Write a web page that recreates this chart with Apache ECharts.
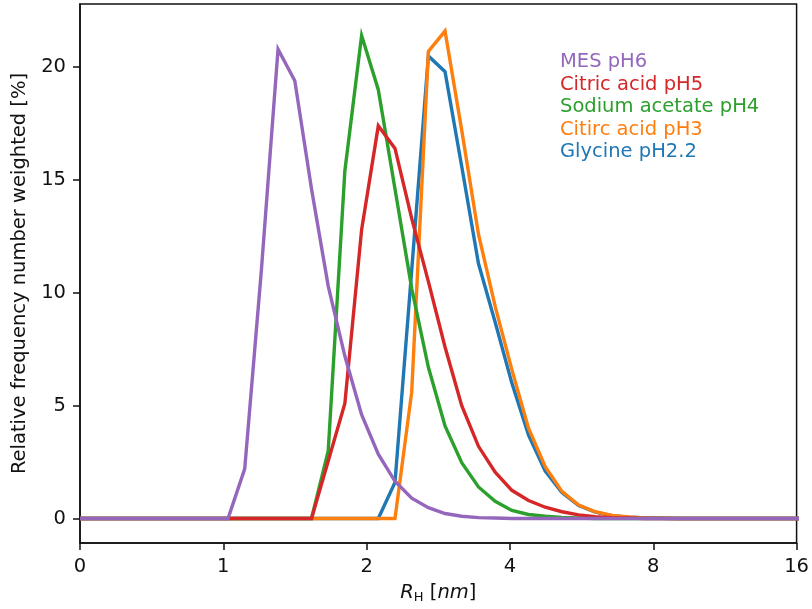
<!DOCTYPE html>
<html><head><meta charset="utf-8">
<script src="https://cdn.jsdelivr.net/npm/echarts@6/dist/echarts.min.js"></script>
<style>html,body{margin:0;padding:0;background:#fff}#c{width:812px;height:609px}</style>
</head><body><div id="c"></div>
<script>
// hydrodynamic radius R_H in nm (log-spaced bins)
const rh = [0, 1.023, 1.109, 1.202, 1.303, 1.413, 1.532, 1.661, 1.800, 1.952, 2.116, 2.294, 2.487, 2.696, 2.922, 3.168, 3.435, 3.724, 4.037, 4.376, 4.744, 5.143, 5.576, 6.045, 6.553, 7.104, 7.702, 8.349, 9.051, 9.813, 10.638, 11.533, 12.502, 13.554, 14.694, 15.930, 17.27];

const mesPH6 = [0, 0, 2.2, 11.0, 20.8, 19.4, 14.6, 10.3, 7.2, 4.6, 2.85, 1.65, 0.9, 0.48, 0.22, 0.1, 0.04, 0.02, 0, 0, 0, 0, 0, 0, 0, 0, 0, 0, 0, 0, 0, 0, 0, 0, 0, 0, 0];
const citricPH5 = [0, 0, 0, 0, 0, 0, 0, 2.55, 5.1, 12.8, 17.4, 16.4, 13.3, 10.5, 7.6, 5.0, 3.2, 2.05, 1.25, 0.8, 0.5, 0.3, 0.16, 0.08, 0.04, 0.02, 0, 0, 0, 0, 0, 0, 0, 0, 0, 0, 0];
const sodiumAcetatePH4 = [0, 0, 0, 0, 0, 0, 0, 3.0, 15.4, 21.4, 19.0, 14.6, 10.2, 6.7, 4.1, 2.47, 1.4, 0.76, 0.36, 0.18, 0.1, 0.05, 0.02, 0, 0, 0, 0, 0, 0, 0, 0, 0, 0, 0, 0, 0, 0];
const citircPH3 = [0, 0, 0, 0, 0, 0, 0, 0, 0, 0, 0, 0, 5.6, 20.7, 21.6, 17.2, 12.6, 9.4, 6.6, 4.0, 2.3, 1.2, 0.6, 0.3, 0.14, 0.07, 0.03, 0.01, 0, 0, 0, 0, 0, 0, 0, 0, 0];
const glycinePH22 = [0, 0, 0, 0, 0, 0, 0, 0, 0, 0, 0, 1.6, 11.0, 20.5, 19.8, 15.6, 11.3, 8.7, 6.0, 3.7, 2.1, 1.15, 0.58, 0.28, 0.13, 0.06, 0.03, 0.01, 0, 0, 0, 0, 0, 0, 0, 0, 0];

const seriesNames = ['MES pH6', 'Citric acid pH5', 'Sodium acetate pH4', 'Citirc acid pH3', 'Glycine pH2.2'];
const seriesColors = ['#9467bd', '#d62728', '#2ca02c', '#ff7f0e', '#1f77b4'];
const seriesValues = [mesPH6, citricPH5, sodiumAcetatePH4, citircPH3, glycinePH22];

const xTickValues = [0, 1, 2, 4, 8, 16];
const yTickValues = [0, 5, 10, 15, 20];

// symmetric-log (base 2, linear below 1) axis transform
function fwd(x) { return x <= 1 ? x : 1 + Math.log2(x); }
function inv(t) { return t <= 1 ? t : Math.pow(2, t - 1); }

const FONT = 'DejaVu Sans';
const FS = 19.5;
const ink = '#111';

// plot in matplotlib order (Glycine first, MES last -> on top)
const order = [4, 3, 2, 1, 0];
const series = order.map(i => ({
  name: seriesNames[i],
  type: 'line',
  showSymbol: false,
  symbol: 'none',
  clip: true,
  color: seriesColors[i],
  lineStyle: { width: 3.4, color: seriesColors[i], join: 'miter' },
  data: rh.map((x, j) => [fwd(x), seriesValues[i][j]])
}));

const chart = echarts.init(document.getElementById('c'), null, { renderer: 'canvas' });
chart.setOption({
  animation: false,
  backgroundColor: '#fff',
  textStyle: { fontFamily: FONT },
  grid: { left: 80, right: 14, top: 4, bottom: 66, show: true, borderColor: ink, borderWidth: 1.5, backgroundColor: 'transparent' },
  legend: {
    orient: 'vertical', left: 555, top: 51, padding: 0, itemGap: 0,
    itemWidth: 0, itemHeight: 0, icon: 'rect', selectedMode: false,
    textStyle: { fontFamily: FONT, fontSize: FS, lineHeight: 22.5 },
    data: seriesNames.map((n, i) => ({ name: n, textStyle: { color: seriesColors[i] } }))
  },
  xAxis: {
    type: 'value', min: 0, max: fwd(16),
    axisLine: { show: true, onZero: false, lineStyle: { color: ink, width: 1.5 } },
    axisTick: { show: true, length: 7, lineStyle: { color: ink, width: 1.5 }, customValues: xTickValues.map(fwd) },
    axisLabel: { customValues: xTickValues.map(fwd), fontSize: FS, color: ink, margin: 14, fontFamily: FONT,
      formatter: v => String(Math.round(inv(v))) },
    splitLine: { show: false },
    name: '{i|R}{s|H} [{i|nm}]', nameLocation: 'middle', nameGap: 38,
    nameTextStyle: { fontSize: FS, color: ink, fontFamily: FONT,
      rich: { i: { fontStyle: 'italic', fontSize: FS, color: ink, fontFamily: FONT },
              s: { fontSize: 13, color: ink, padding: [10, 0, 0, 0], fontFamily: FONT } } }
  },
  yAxis: {
    type: 'value', min: -1.085, max: 22.8,
    axisLine: { show: true, onZero: false, lineStyle: { color: ink, width: 1.5 } },
    axisTick: { show: true, length: 7, lineStyle: { color: ink, width: 1.5 }, customValues: yTickValues },
    axisLabel: { customValues: yTickValues, fontSize: FS, color: ink, margin: 14, fontFamily: FONT },
    splitLine: { show: false },
    name: 'Relative frequency number weighted [%]', nameLocation: 'middle', nameGap: 45, nameRotate: 90,
    nameTextStyle: { fontSize: FS, color: ink, fontFamily: FONT }
  },
  series: series
});
</script></body></html>
